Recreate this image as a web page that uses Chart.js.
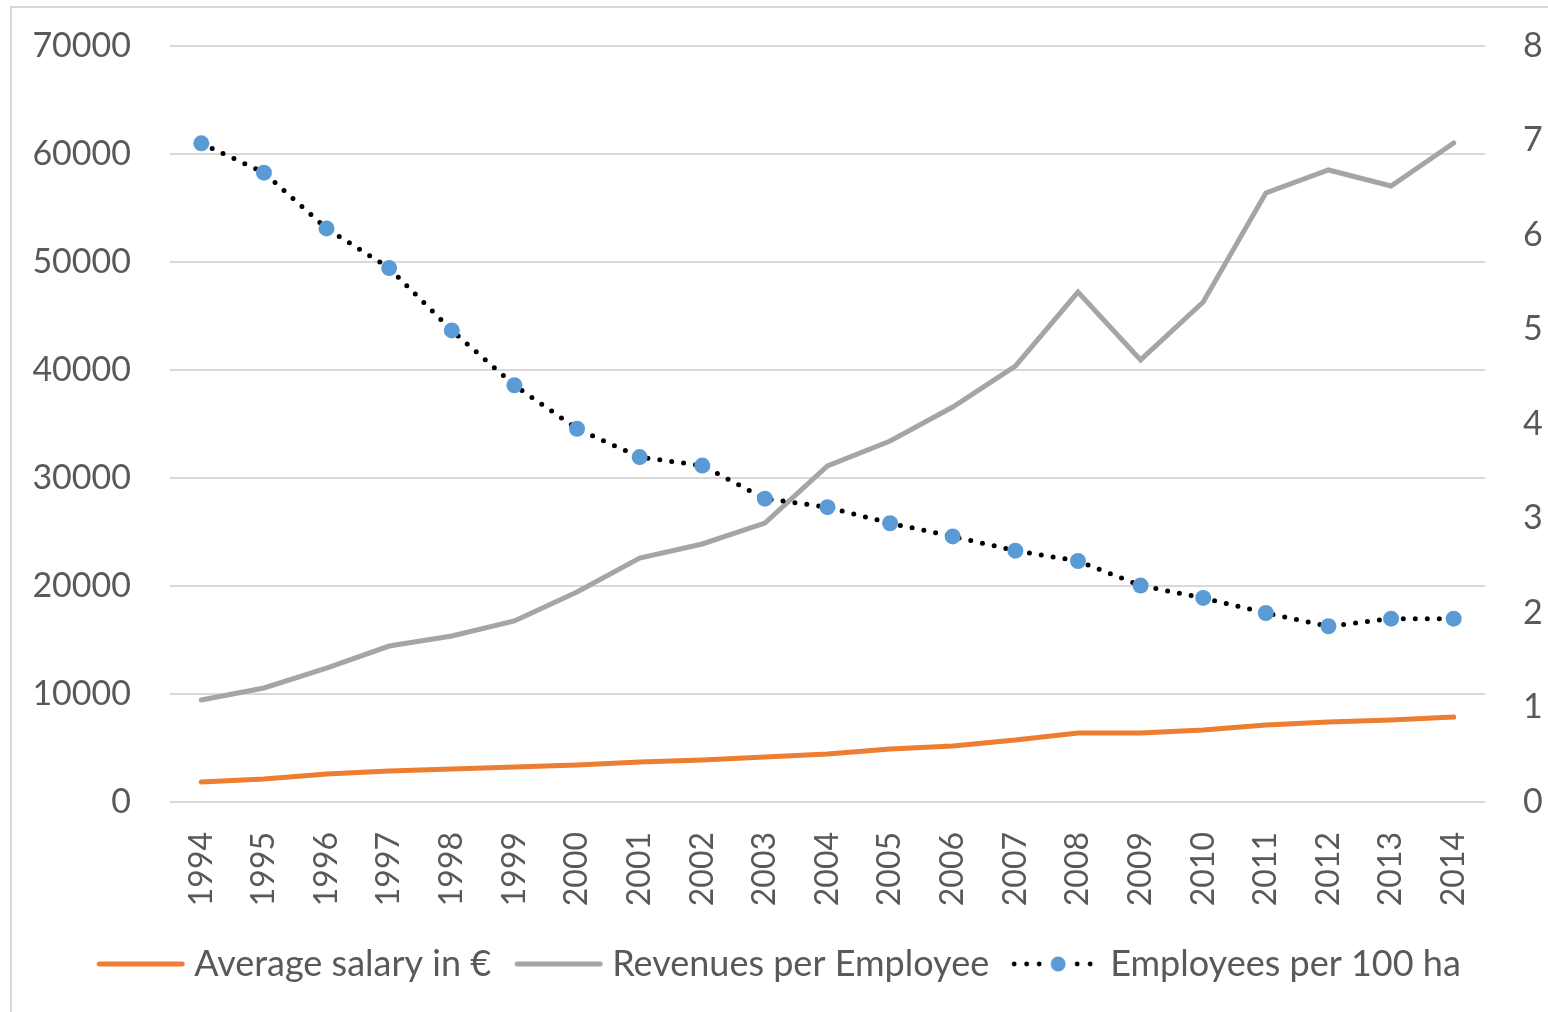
<!DOCTYPE html>
<html>
<head>
<meta charset="utf-8">
<script src="https://cdn.jsdelivr.net/npm/chart.js@4.4.1/dist/chart.umd.min.js"></script>
<style>
  html, body { margin: 0; padding: 0; background: #fff; }
  canvas { display: block; }
</style>
</head>
<body>
<canvas id="chart" width="1548" height="1012"></canvas>
<script>
// values
const years = ['1994', '1995', '1996', '1997', '1998', '1999', '2000', '2001', '2002', '2003', '2004',
  '2005', '2006', '2007', '2008', '2009', '2010', '2011', '2012', '2013', '2014'];
const avgSalary = [1850, 2130, 2590, 2870, 3060, 3240, 3430, 3700, 3890, 4170, 4440,
  4910, 5190, 5740, 6390, 6390, 6670, 7130, 7410, 7590, 7870];
const revenuesPerEmployee = [9440, 10560, 12400, 14440, 15370, 16760, 19440, 22590, 23890, 25830, 31110,
  33430, 36570, 40370, 47220, 40930, 46300, 56390, 58520, 57040, 61020];
const employeesPer100ha = [6.97, 6.66, 6.07, 5.65, 4.99, 4.41, 3.95, 3.65, 3.56, 3.21, 3.12,
  2.95, 2.81, 2.66, 2.55, 2.29, 2.16, 2.00, 1.86, 1.94, 1.94];

const ORANGE = '#ED7D31';
const GREY = '#A5A5A5';
const BLUE = '#5B9BD5';
const TEXT = '#595959';

Chart.defaults.font.family = 'Lato, "Open Sans", sans-serif';
Chart.defaults.color = TEXT;

// legend samples, drawn as small images
function lineSample(color) {
  const c = document.createElement('canvas');
  c.width = 107; c.height = 8;
  const g = c.getContext('2d');
  g.strokeStyle = color;
  g.lineWidth = 5;
  g.lineCap = 'round';
  g.beginPath();
  g.moveTo(21, 4);
  g.lineTo(104, 4);
  g.stroke();
  return c;
}

function dotSample() {
  const c = document.createElement('canvas');
  c.width = 107; c.height = 18;
  const g = c.getContext('2d');
  g.fillStyle = '#000';
  [20, 32.5, 45, 83, 96].forEach(x => {
    g.beginPath();
    g.arc(x, 9, 2.4, 0, Math.PI * 2);
    g.fill();
  });
  g.fillStyle = BLUE;
  g.beginPath();
  g.arc(64, 9, 7.5, 0, Math.PI * 2);
  g.fill();
  return c;
}

const samples = [lineSample(ORANGE), lineSample(GREY), dotSample()];

const frame = {
  id: 'frame',
  beforeDraw: (chart) => {
    const ctx = chart.ctx;
    ctx.save();
    ctx.fillStyle = '#fff';
    ctx.fillRect(0, 0, chart.width, chart.height);
    ctx.strokeStyle = '#d9d9d9';
    ctx.lineWidth = 2;
    ctx.strokeRect(11, 7, chart.width + 20, chart.height + 20);
    ctx.restore();
  }
};

// keep the axis label overflow from pushing the plot area down
const fixY = (width) => (axis) => {
  axis.width = width;
  axis.paddingTop = 0;
  axis.paddingBottom = 0;
};

new Chart(document.getElementById('chart'), {
  type: 'line',
  data: {
    labels: years,
    datasets: [
      {
        label: 'Average salary in €',
        data: avgSalary,
        yAxisID: 'y',
        borderColor: ORANGE,
        backgroundColor: ORANGE,
        borderWidth: 5,
        pointRadius: 0,
        borderCapStyle: 'round',
        order: 3
      },
      {
        label: 'Revenues per Employee',
        data: revenuesPerEmployee,
        yAxisID: 'y',
        borderColor: GREY,
        backgroundColor: GREY,
        borderWidth: 5,
        pointRadius: 0,
        borderCapStyle: 'round',
        order: 2
      },
      {
        label: 'Employees per 100 ha',
        data: employeesPer100ha,
        yAxisID: 'y1',
        borderColor: '#000',
        backgroundColor: BLUE,
        borderWidth: 5,
        borderDash: [0, 12],
        borderCapStyle: 'round',
        pointRadius: 8,
        pointBackgroundColor: BLUE,
        pointBorderWidth: 0,
        order: 1
      }
    ]
  },
  options: {
    responsive: false,
    animation: false,
    layout: { padding: { top: 46, left: 0, right: 0, bottom: 20 } },
    plugins: {
      tooltip: { enabled: false },
      legend: {
        position: 'bottom',
        labels: {
          usePointStyle: true,
          pointStyleWidth: 89,
          padding: 14,
          color: TEXT,
          font: { size: 36 },
          generateLabels: (chart) => chart.data.datasets.map((ds, i) => ({
            text: ds.label,
            pointStyle: samples[i],
            fillStyle: ds.backgroundColor,
            strokeStyle: ds.borderColor,
            lineWidth: 0,
            hidden: false,
            datasetIndex: i,
            fontColor: TEXT
          }))
        }
      }
    },
    scales: {
      x: {
        offset: true,
        grid: { display: false },
        border: { display: false },
        ticks: {
          minRotation: 90,
          maxRotation: 90,
          padding: 22,
          font: { size: 32 }
        },
        afterFit: (axis) => { axis.height = 130; }
      },
      y: {
        position: 'left',
        min: 0,
        max: 70000,
        ticks: { stepSize: 10000, padding: 39, font: { size: 34 }, callback: (v) => String(v) },
        grid: { color: '#d9d9d9', lineWidth: 2, drawTicks: false },
        border: { display: false },
        afterFit: fixY(170)
      },
      y1: {
        position: 'right',
        min: 0,
        max: 8,
        ticks: { stepSize: 1, padding: 38, font: { size: 34 }, callback: (v) => String(v) },
        grid: { display: false, drawTicks: false },
        border: { display: false },
        afterFit: fixY(63)
      }
    }
  },
  plugins: [frame]
});
</script>
</body>
</html>
